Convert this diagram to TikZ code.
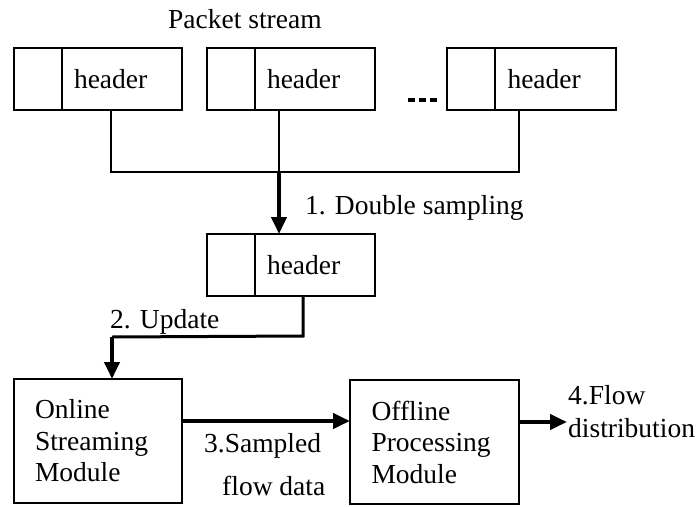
\documentclass[tikz,border=0pt]{standalone}
\usepackage{fontspec}
\setmainfont{Liberation Serif}
\usetikzlibrary{arrows.meta,calc}
\begin{document}
\begin{tikzpicture}[x=1pt,y=-1pt,
  every node/.style={font=\fontsize{27.5}{31.5}\selectfont, inner sep=0pt},
  cell/.style={draw, line width=2pt, minimum height=62pt, outer sep=0pt},
  idcell/.style={cell, minimum width=48pt},
  hdrcell/.style={cell, minimum width=120pt, text width=96pt, align=left},
  module/.style={draw, line width=2pt, minimum width=168pt, minimum height=124pt,
    text width=126pt, align=left, outer sep=0pt},
  txt/.style={anchor=base west},
  wire/.style={line width=2pt},
  flow/.style={line width=4pt, -{Triangle[length=17pt,width=15pt]}},
]
\useasboundingbox (0,0) rectangle (696,506);

% title
\node[txt] (title) at (168,28) {Packet stream};

% incoming packets: id cell + header cell
\node[idcell, anchor=north west] (p1a) at (14,48) {};
\node[hdrcell, anchor=north west] (p1) at (p1a.north east) {header};
\node[idcell, anchor=north west] (p2a) at (207,48) {};
\node[hdrcell, anchor=north west] (p2) at (p2a.north east) {header};
\node[idcell, anchor=north west] (p3a) at (447,48) {};
\node[hdrcell, anchor=north west, minimum width=121pt] (p3) at (p3a.north east) {header};

% ellipsis between packets
\coordinate (dotsL) at (408,100);
\coordinate (dotsR) at (437,100);
\draw[line width=4pt, dash pattern=on 7pt off 4pt] (dotsL) -- (dotsR);

% sampled packet
\node[idcell, anchor=north west] (sa) at (207,234) {};
\node[hdrcell, anchor=north west] (s) at (sa.north east) {header};

% modules
\node[module, anchor=north west] (online) at (14,379) {Online\\Streaming\\Module};
\node[module, anchor=north west, minimum width=169pt] (offline) at (350,380) {Offline\\Processing\\Module};

% sampling bus
\coordinate (bus1) at ($(p1.south west)+(49,62)$);
\coordinate (bus2) at ($(p2.south west)+(24,62)$);
\coordinate (bus3) at ($(p3.south west)+(24,62)$);
\draw[wire] ($(p1.south west)+(49,0)$) -- (bus1) -- (bus3) -- ($(p3.south west)+(24,0)$);
\draw[wire] ($(p2.south west)+(24,0)$) -- (bus2);
\draw[flow] (bus2) -- (bus2 |- s.north);
\node[txt] (l1) at (305,214) {1. Double sampling};

% update path
\coordinate (up1) at ($(s.south west)+(48,40)$);
\coordinate (up2) at ($(online.north west)+(98,-42)$);
\draw[line width=3pt] ($(s.south west)+(48,0)$) -- (up1) -- (up2);
\draw[flow] (up2) -- (up2 |- online.north);
\node[txt] (l2) at (110,328) {2. Update};

% online to offline
\draw[flow] ($(online.north east)+(0,42)$) -- ($(offline.north west)+(0,41)$);
\node[txt] (l3a) at (204,452) {3.Sampled};
\node[txt] (l3b) at (222,495) {flow data};

% output
\coordinate (out) at ($(offline.north east)+(48,42)$);
\draw[flow] ($(offline.north east)+(0,42)$) -- (out);
\node[txt] (l4a) at (568,404) {4.Flow};
\node[txt] (l4b) at (568,437) {distribution};
\end{tikzpicture}
\end{document}
